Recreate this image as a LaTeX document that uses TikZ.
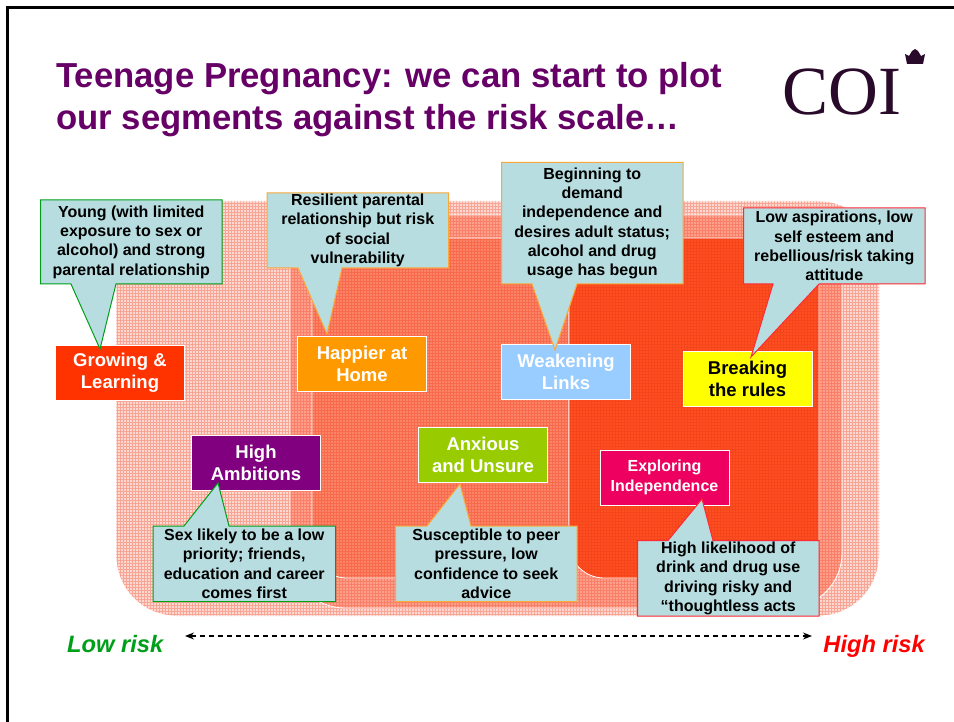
\documentclass[tikz,border=0pt]{standalone}
\usepackage{fontspec}
\setmainfont{Liberation Sans}
\newfontfamily\logofont{Liberation Serif}
\usetikzlibrary{calc,patterns,arrows.meta}

\definecolor{titlepurple}{HTML}{660066}
\definecolor{logodark}{HTML}{2A0A2A}
\definecolor{noteblue}{HTML}{B7DDE0}
\definecolor{notegreen}{HTML}{009F1A}
\definecolor{noteorange}{HTML}{F8A93A}
\definecolor{notered}{HTML}{FF2A35}
\definecolor{zoneA}{HTML}{FDD8D0}
\definecolor{zoneAp}{HTML}{F9A596}
\definecolor{zoneB}{HTML}{FCA08C}
\definecolor{zoneBp}{HTML}{F97F68}
\definecolor{zoneC}{HTML}{FB8468}
\definecolor{zoneCp}{HTML}{F86A4C}
\definecolor{zoneD}{HTML}{FF4E20}
\definecolor{zoneDp}{HTML}{F5451C}
\definecolor{segred}{HTML}{FF3300}
\definecolor{segorange}{HTML}{FF9900}
\definecolor{segblue}{HTML}{99CCFF}
\definecolor{segyellow}{HTML}{FFFF00}
\definecolor{segpurple}{HTML}{800080}
\definecolor{seggreen}{HTML}{99CC00}
\definecolor{segpink}{HTML}{EE0060}

\tikzset{
    zone/.style={draw=white, line width=.8pt, preaction={fill=#1}},
    segbox/.style={draw=white, line width=.8pt, fill=#1, minimum width=129, minimum height=55,
        align=center, text=white, font=\bfseries\fontsize{18.5}{22}\selectfont, inner sep=0},
    notetext/.style={align=center, inner sep=0, text=black, font=\bfseries\fontsize{16}{19.3}\selectfont},
    noteshape/.style={draw=#1, line width=1pt, fill=noteblue, line join=miter},
    risklabel/.style={font=\bfseries\itshape\fontsize{23.7}{26}\selectfont, text=#1, inner sep=0}
}

% box corners, the two ends of the pointer base, the tip, then line colour and text
\newcommand{\notedown}[9]{
    \draw[noteshape=#8] (#1,#2) -- (#3,#2) -- (#3,#4) -- (#5,#4) -- (#7) -- (#6,#4) -- (#1,#4) -- cycle;
    \node[notetext] at ($ (#1,#2)!.5!(#3,#4) $) {#9};
}
\newcommand{\noteup}[9]{
    \draw[noteshape=#8] (#1,#2) -- (#5,#2) -- (#7) -- (#6,#2) -- (#3,#2) -- (#3,#4) -- (#1,#4) -- cycle;
    \node[notetext] at ($ (#1,#2)!.5!(#3,#4) $) {#9};
}

\begin{document}
\begin{tikzpicture}[x=1pt, y=-1pt]
    \useasboundingbox (0,0) rectangle (954,722);
    \fill[white] (0,0) rectangle (954,722);

    % slide frame
    \draw[line width=3pt] (7.5,722) -- (7.5,7.5) -- (954,7.5);

    \node[anchor=north west, inner sep=0, align=left, text=titlepurple,
        font=\bfseries\fontsize{34.7}{42}\selectfont] (title) at (56,62)
        {Teenage Pregnancy: we can start to plot\\our segments against the risk scale…};

    % logo
    \node[anchor=base west, inner sep=0, text=logodark, font=\logofont\fontsize{69}{69}\selectfont] (logo) at (782,115) {COI};
    \fill[logodark] (907,64) -- (905,54) -- (909,56) -- (912,51) -- (915,49) -- (918,51) -- (921,56) -- (925,54) -- (923,64) -- cycle;

    % risk zones
    \draw[zone=zoneA, pattern=grid, pattern color=zoneAp, rounded corners=60] (116,201) rectangle (879,616);
    \draw[zone=zoneB, pattern=grid, pattern color=zoneBp] (290,215) -- (842,215) [rounded corners=55] -- (842,608) -- (290,608) [sharp corners] -- cycle;
    \draw[zone=zoneC, pattern=grid, pattern color=zoneCp] (312,238) -- (569,238) -- (569,578) [rounded corners=35] -- (312,578) [sharp corners] -- cycle;
    \draw[zone=zoneD, pattern=grid, pattern color=zoneDp] (569,238) -- (819,238) [rounded corners=35] -- (819,578) -- (569,578) [sharp corners] -- cycle;

    % segments
    \node[segbox=segred] (growing) at (120,373) {Growing \&\\Learning};
    \node[segbox=segorange] (happier) at (362,364) {Happier at\\Home};
    \node[segbox=segblue] (weakening) at (566,371.5) {Weakening\\Links};
    \node[segbox=segyellow, text=black] (breaking) at (747.5,379) {Breaking\\the rules};
    \node[segbox=segpurple] (ambitions) at (256,462.5) {High\\Ambitions};
    \node[segbox=seggreen] (anxious) at (483,454.5) {Anxious\\and Unsure};
    \node[segbox=segpink, font=\bfseries\fontsize{16}{20}\selectfont] (exploring) at (664.5,477.5) {Exploring\\Independence};

    % pointer tips
    \coordinate (tipA) at (100,349);
    \coordinate (tipB) at (327,334);
    \coordinate (tipC) at (555,350);
    \coordinate (tipD) at (751,357);
    \coordinate (tipE) at (218,483);
    \coordinate (tipF) at (460,484);
    \coordinate (tipG) at (702,499);

    \notedown{40.5}{200}{222}{284}{116}{71}{tipA}{notegreen}{Young (with limited\\exposure to sex or\\alcohol) and strong\\parental relationship}
    \notedown{267}{193}{448.5}{268}{342}{298}{tipB}{noteorange}{Resilient parental\\relationship but risk\\of social\\vulnerability}
    \notedown{501.5}{162.5}{683}{284}{577}{532}{tipC}{noteorange}{Beginning to\\demand\\independence and\\desires adult status;\\alcohol and drug\\usage has begun}
    \notedown{743.5}{208}{925}{284}{819}{773}{tipD}{notered}{Low aspirations, low\\self esteem and\\rebellious/risk taking\\attitude}
    \noteup{153}{526}{335.5}{601.5}{184}{229}{tipE}{notegreen}{Sex likely to be a low\\priority; friends,\\education and career\\comes first}
    \noteup{395.5}{526}{577}{601.5}{427}{471}{tipF}{noteorange}{Susceptible to peer\\pressure, low\\confidence to seek\\advice}
    \noteup{637.5}{540.5}{819}{616}{668}{713}{tipG}{notered}{High likelihood of\\drink and drug use\\driving risky and\\“thoughtless acts}

    % risk scale
    \node[risklabel=notegreen, anchor=base west] (lowrisk) at (67,652) {Low risk};
    \node[risklabel=red, anchor=base east] (highrisk) at (925,652) {High risk};
    \coordinate (scaleL) at (185,636);
    \coordinate (scaleR) at (812,636);
    \draw[{Stealth[length=9pt,width=7pt]}-{Stealth[length=9pt,width=7pt]}, line width=1.2pt, dash pattern=on 5.5pt off 3.5pt] (scaleL) -- (scaleR);
\end{tikzpicture}
\end{document}
